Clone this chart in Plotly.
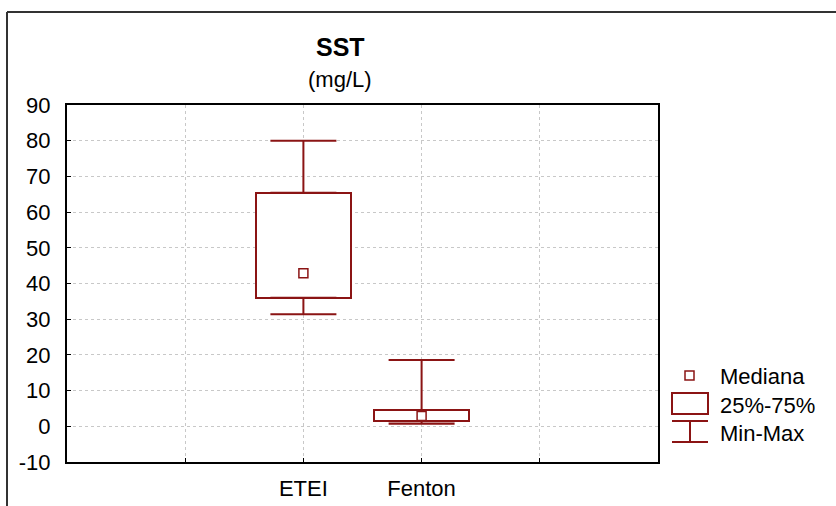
import plotly.graph_objects as go

# ---- data ----
categories = ["ETEI", "Fenton"]
cat_pos = [2, 3]
q_min = [31.4, 0.7]
q1 = [36.0, 1.4]
median = [42.9, 2.9]
q3 = [65.4, 4.6]
q_max = [80.0, 18.6]
y_ticks = list(range(-10, 91, 10))
y_tick_text = [str(v) for v in y_ticks]  # plain hyphen for negatives
legend_labels = ["Mediana", "25%-75%", "Min-Max"]

RED = "#8b1414"
FONT = "Liberation Sans, Arial, sans-serif"
FS = 22

W, H = 836, 506
L, R, T, B = 67, 178, 105, 44
PW, PH = W - L - R, H - T - B


def px(x):
    return (x - L) / PW


def py(y):
    return (H - B - y) / PH


fig = go.Figure()

# boxes (25%-75%)
fig.add_trace(go.Bar(
    x=cat_pos, base=q1, y=[b - a for a, b in zip(q1, q3)], width=0.8,
    marker=dict(color="white", line=dict(color=RED, width=2)),
    hoverinfo="skip", showlegend=False))

# upper whiskers
fig.add_trace(go.Scatter(
    x=cat_pos, y=q3, mode="markers", marker=dict(size=0.1, color="rgba(0,0,0,0)"),
    error_y=dict(type="data", symmetric=False,
                 array=[b - a for a, b in zip(q3, q_max)], arrayminus=[0, 0],
                 color=RED, thickness=2, width=33),
    hoverinfo="skip", showlegend=False))

# lower whiskers
fig.add_trace(go.Scatter(
    x=cat_pos, y=q1, mode="markers", marker=dict(size=0.1, color="rgba(0,0,0,0)"),
    error_y=dict(type="data", symmetric=False,
                 array=[0, 0], arrayminus=[a - b for a, b in zip(q1, q_min)],
                 color=RED, thickness=2, width=33),
    hoverinfo="skip", showlegend=False))

# medians
fig.add_trace(go.Scatter(
    x=cat_pos, y=median, mode="markers",
    marker=dict(symbol="square", size=9, color="white", line=dict(color=RED, width=1.5)),
    hoverinfo="skip", showlegend=False))

shapes = []
# outer frame
shapes.append(dict(type="line", xref="paper", yref="paper", x0=px(7), x1=px(840), y0=py(12), y1=py(12),
                   line=dict(color="#333333", width=2)))
shapes.append(dict(type="line", xref="paper", yref="paper", x0=px(7), x1=px(7), y0=py(12), y1=py(510),
                   line=dict(color="#333333", width=2)))
# legend glyphs
shapes.append(dict(type="rect", xref="paper", yref="paper", x0=px(685), x1=px(694), y0=py(371), y1=py(380),
                   line=dict(color=RED, width=1.5), fillcolor="white"))
shapes.append(dict(type="rect", xref="paper", yref="paper", x0=px(672), x1=px(708), y0=py(393), y1=py(414),
                   line=dict(color=RED, width=2), fillcolor="white"))
for yy in (421, 442):
    shapes.append(dict(type="line", xref="paper", yref="paper", x0=px(672), x1=px(708), y0=py(yy), y1=py(yy),
                       line=dict(color=RED, width=2)))
shapes.append(dict(type="line", xref="paper", yref="paper", x0=px(690), x1=px(690), y0=py(421), y1=py(442),
                   line=dict(color=RED, width=2)))

annotations = [
    dict(text="<b>SST</b>", x=px(340), y=py(47), xref="paper", yref="paper", showarrow=False,
         font=dict(size=25, family=FONT, color="black"), xanchor="center", yanchor="middle"),
    dict(text="(mg/L)", x=px(340), y=py(79), xref="paper", yref="paper", showarrow=False,
         font=dict(size=FS, family=FONT, color="black"), xanchor="center", yanchor="middle"),
]
for lbl, yy in zip(legend_labels, (376, 405, 433)):
    annotations.append(dict(text=lbl, x=px(718), y=py(yy), xref="paper", yref="paper", showarrow=False,
                            font=dict(size=FS, family=FONT, color="black"), xanchor="left", yanchor="middle"))

fig.update_layout(
    width=W, height=H,
    margin=dict(l=L, r=R, t=T, b=B, pad=0, autoexpand=False),
    paper_bgcolor="white", plot_bgcolor="white",
    font=dict(family=FONT, size=FS, color="black"),
    shapes=shapes, annotations=annotations,
    showlegend=False,
    bargap=0,
)
fig.update_xaxes(
    range=[0, 5], tickvals=[1, 2, 3, 4], ticktext=["", categories[0], categories[1], ""],
    ticks="inside", ticklen=4, tickcolor="black", tickwidth=1,
    showgrid=True, gridcolor="#c8c8c8", griddash="dot", gridwidth=1,
    showline=True, linecolor="black", linewidth=2, mirror=True, automargin=False,
    zeroline=False, ticklabelstandoff=6, tickfont=dict(size=FS, family=FONT),
)
fig.update_yaxes(
    range=[-10, 90], tickvals=y_ticks, ticktext=y_tick_text,
    ticks="inside", ticklen=4, tickcolor="black", tickwidth=1,
    showgrid=True, gridcolor="#c8c8c8", griddash="dot", gridwidth=1,
    showline=True, linecolor="black", linewidth=2, mirror=True, automargin=False,
    zeroline=False, ticklabelstandoff=10, tickfont=dict(size=FS, family=FONT),
)

fig.write_html("out.html")
